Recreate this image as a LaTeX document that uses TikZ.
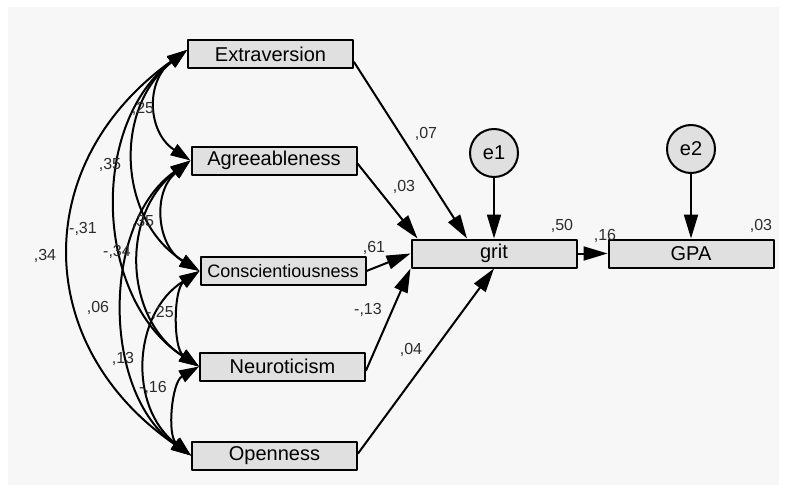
\documentclass[tikz,border=0pt]{standalone}
\usepackage{fontspec}
\setmainfont{Liberation Sans}
\usetikzlibrary{arrows.meta}
\definecolor{boxgray}{RGB}{224,224,224}
\definecolor{bggray}{RGB}{247,247,247}
\definecolor{txtgray}{RGB}{45,45,45}
\tikzset{
  var/.style={draw, line width=2pt, fill=boxgray, minimum width=165pt, minimum height=28pt, inner sep=0pt, font=\fontsize{20}{24}\selectfont},
  err/.style={draw, circle, line width=2pt, fill=boxgray, minimum size=48pt, inner sep=0pt, font=\fontsize{20}{24}\selectfont},
  reg/.style={-{Triangle[length=24pt,width=14pt]}, line width=2pt},
  cov/.style={{Triangle[length=20pt,width=13pt]}-{Triangle[length=20pt,width=13pt]}, line width=2pt},
  coef/.style={text=txtgray, font=\fontsize{16}{18}\selectfont, inner sep=0pt}
}
\begin{document}
\begin{tikzpicture}[line cap=round,line join=round,x=1pt,y=-1pt]
                \useasboundingbox (0,0) rectangle (786,492);
                \fill [white] (0,0) rectangle (786,492);
                \fill [bggray] (8,7) rectangle (779,485);
                % observed variables
                \node [var] (E) at (270.5,54) {Extraversion};
                \node [var] (A) at (274,160.5) {Agreeableness};
                \node [var, font=\fontsize{18}{22}\selectfont] (C) at (283,271) {Conscientiousness};
                \node [var] (N) at (282.5,366.5) {Neuroticism};
                \node [var] (O) at (274.5,455.5) {Openness};
                \node [var] (grit) at (494,253.5) {grit};
                \node [var] (GPA) at (691,253.5) {GPA};
                \node [err] (e1) at (494,153) {e1};
                \node [err] (e2) at (691,149) {e2};
                % covariances
                \draw [cov] ([yshift=4pt]E.west) to[bend right=55, looseness=1.2] (A.west);
                \draw [cov] (A.west) to[bend right=55, looseness=1.15] (C.west);
                \draw [cov] (C.west) to[bend right=55, looseness=0.85] (N.west);
                \draw [cov] (N.west) to[bend right=55, looseness=0.9] (O.west);
                \draw [cov] ([yshift=4pt]E.west) to[bend right=55, looseness=1.1] (C.west);
                \draw [cov] (A.west) to[bend right=55, looseness=1.1] (N.west);
                \draw [cov] (C.west) to[bend right=55, looseness=1.1] (O.west);
                \draw [cov] ([yshift=4pt]E.west) to[bend right=55, looseness=1.0] (N.west);
                \draw [cov] (A.west) to[bend right=55, looseness=0.95] (O.west);
                \draw [cov] ([yshift=4pt]E.west) to[bend right=55, looseness=1.22] (O.west);
                % regressions
                \draw [reg] ([yshift=-8pt]E.east) -- ([xshift=-27pt]grit.north);
                \draw [reg] ([yshift=-3pt]A.east) -- ([xshift=7pt]grit.north west);
                \draw [reg] (C.east) -- (grit.west);
                \draw [reg] ([yshift=-4pt]N.east) -- (grit.south west);
                \draw [reg] ([yshift=2pt]O.east) -- (grit.south);
                \draw [reg] (e1) -- (grit);
                \draw [reg] (e2) -- (GPA);
                \draw [reg] (grit) -- (GPA);
                % estimates
                \node [coef] (c07) at (426,134) {,07};
                \node [coef] (c03) at (404,187) {,03};
                \node [coef] (c61) at (374,248) {,61};
                \node [coef] (c13n) at (368,310) {-,13};
                \node [coef] (c04) at (411,350) {,04};
                \node [coef] (r50) at (562,226) {,50};
                \node [coef] (c16) at (605,236) {,16};
                \node [coef] (r03) at (761,226) {,03};
                \node [coef] (k25) at (143,109) {,25};
                \node [coef] (k35a) at (110,165) {,35};
                \node [coef] (k35b) at (143,222) {,35};
                \node [coef] (k31) at (83,229) {-,31};
                \node [coef] (k34) at (45,256) {,34};
                \node [coef] (k34n) at (117,252) {-,34};
                \node [coef] (k06) at (98,308) {,06};
                \node [coef] (k25n) at (160,313) {-,25};
                \node [coef] (k13) at (123,359) {,13};
                \node [coef] (k16n) at (153,388) {-,16};
\end{tikzpicture}
\end{document}
